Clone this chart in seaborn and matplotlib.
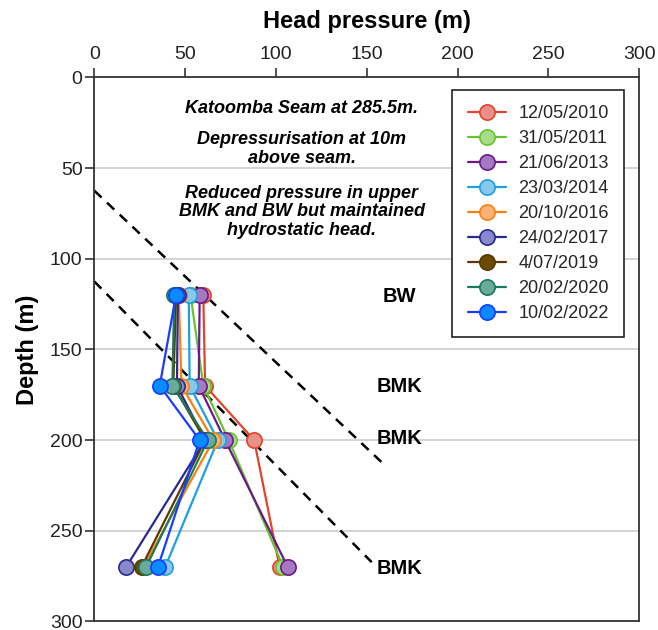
import matplotlib
matplotlib.use("Agg")
import matplotlib.pyplot as plt
import seaborn as sns
import numpy as np
import pandas as pd

# ---- data ----
dates = ["12/05/2010", "31/05/2011", "21/06/2013", "23/03/2014", "20/10/2016",
         "24/02/2017", "4/07/2019", "20/02/2020", "10/02/2022"]
depth_m = [120, 170, 200, 270]
head_2010 = [60, 61, 88, 102]
head_2011 = [53, 60, 74, 104]
head_2013 = [58, 57.5, 72, 106.5]
head_2014 = [52, 52.5, 68, 39]
head_2016 = [46.5, 48, 65.5, 27]
head_2017 = [46, 45.5, 61, 17.5]
head_2019 = [45, 43.5, 61, 26]
head_2020 = [44, 43, 62.5, 28.5]
head_2022 = [45, 36, 58, 35]
heads = [head_2010, head_2011, head_2013, head_2014, head_2016,
         head_2017, head_2019, head_2020, head_2022]

line_colors = ["#e0452a", "#66c42e", "#6a1b8a", "#1ea0dc", "#ff7f0e",
               "#2a2a8e", "#5a3a00", "#1a7a5a", "#1a3cff"]
face_colors = ["#e8908a", "#a8dc88", "#a678c0", "#88c8ea", "#f7b27a",
               "#8888cc", "#6b4a00", "#6aaa99", "#0a8cff"]

# hydrostatic guide lines (head, depth end points)
guide1_head = [0, 158]
guide1_depth = [62.4, 212]
guide2_head = [0, 152.7]
guide2_depth = [112.5, 267.3]

unit_labels = ["BW", "BMK", "BMK", "BMK"]
unit_depths = [121, 170.6, 199.2, 270.7]
unit_x = 168

notes = ["Katoomba Seam at 285.5m.",
         "Depressurisation at 10m\nabove seam.",
         "Reduced pressure in upper\nBMK and BW but maintained\nhydrostatic head."]
note_depths = [17.3, 39.5, 74.0]
note_x = 114.2

# ---- style ----
sns.set_theme(style="white")
plt.rcParams["font.family"] = ["Liberation Sans", "DejaVu Sans"]

fig = plt.figure(figsize=(6.58, 6.30), dpi=100)
ax = fig.add_axes([0.1433, 0.0135, 0.8283, 0.8635])

for v in [50, 100, 150, 200, 250]:
    ax.axhline(v, color="#d0d0d0", lw=1.3, zorder=0)

ax.plot(guide1_head, guide1_depth, color="black", lw=1.8, ls=(0, (4, 3)), zorder=1)
ax.plot(guide2_head, guide2_depth, color="black", lw=1.8, ls=(0, (4, 3)), zorder=1)

for i, (lab, h) in enumerate(zip(dates, heads)):
    df = pd.DataFrame({"head": h, "depth": depth_m})
    sns.lineplot(data=df, x="head", y="depth", sort=False, estimator=None,
                 ax=ax, color=line_colors[i], lw=1.6, marker="o", markersize=11,
                 markerfacecolor=face_colors[i], markeredgecolor=line_colors[i],
                 markeredgewidth=1.2, label=lab, zorder=2 + i * 0.01)

ax.set_xlim(0, 300)
ax.set_ylim(300, 0)
ax.set_xticks([0, 50, 100, 150, 200, 250, 300])
ax.set_yticks([0, 50, 100, 150, 200, 250, 300])

ax.xaxis.tick_top()
ax.xaxis.set_label_position("top")
ax.tick_params(axis="x", which="both", top=True, bottom=False, direction="out",
               length=6.5, width=1.2, color="#333333", labelsize=14, pad=4, labelcolor="#222222")
ax.tick_params(axis="y", which="both", left=True, direction="out",
               length=6.5, width=1.2, color="#333333", labelsize=14, pad=2, labelcolor="#222222")
ax.set_xlabel("Head pressure (m)", fontsize=17, fontweight="bold", labelpad=13, color="black")
ax.set_ylabel("Depth (m)", fontsize=17, fontweight="bold", labelpad=8, color="black")

for s in ax.spines.values():
    s.set_visible(True)
    s.set_color("#333333")
    s.set_linewidth(1.3)

for lab, d in zip(unit_labels, unit_depths):
    ax.text(unit_x, d, lab, fontsize=14.5, fontweight="bold", ha="center", va="center",
            color="black")

for t, d in zip(notes, note_depths):
    ax.text(note_x, d, t, fontsize=13, fontweight="bold", fontstyle="italic",
            ha="center", va="center", linespacing=1.12, color="black")

leg = ax.legend(loc="upper right", bbox_to_anchor=(0.972, 0.977), fontsize=13,
                frameon=True, fancybox=False, framealpha=1, edgecolor="#222222",
                handlelength=2.1, handletextpad=0.7, labelspacing=0.44,
                borderpad=0.85, borderaxespad=0)
leg.get_frame().set_linewidth(1.2)

fig.savefig("out.png", dpi=100)
